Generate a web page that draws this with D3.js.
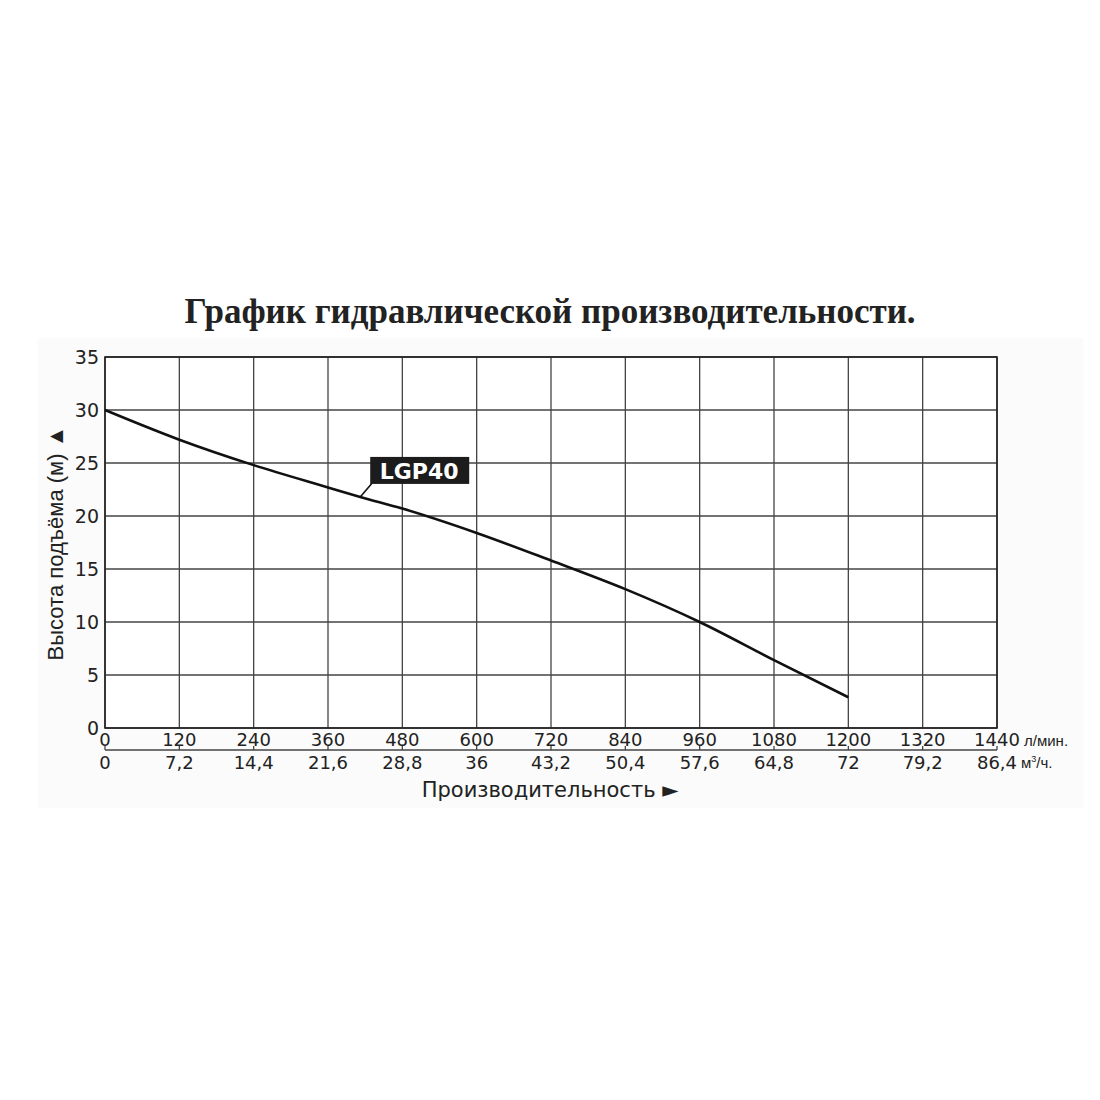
<!DOCTYPE html>
<html>
<head>
<meta charset="utf-8">
<script src="https://cdn.jsdelivr.net/npm/d3@7"></script>
<style>
  body { margin: 0; background: #fff; }
  text { font-family: "DejaVu Sans", "Liberation Sans", Arial, sans-serif; fill: #222; }
</style>
</head>
<body>
<svg id="chart" width="1100" height="1100"></svg>
<script>
// flow in l/min and matching m3/h
const flowTicks = [0, 120, 240, 360, 480, 600, 720, 840, 960, 1080, 1200, 1320, 1440];
const cubicTicks = ["0", "7,2", "14,4", "21,6", "28,8", "36", "43,2", "50,4", "57,6", "64,8", "72", "79,2", "86,4"];
const headTicks = [0, 5, 10, 15, 20, 25, 30, 35];

// LGP40 curve
const flow = [0, 120, 240, 360, 412, 480, 600, 720, 840, 960, 1080, 1200];
const head = [30, 27.2, 24.8, 22.7, 21.8, 20.7, 18.4, 15.8, 13.1, 10.0, 6.4, 2.9];

const svg = d3.select("#chart");
const plotL = 105, plotR = 997, plotT = 357, plotB = 728;

const x = d3.scaleLinear().domain([0, 1440]).range([plotL, plotR]);
const y = d3.scaleLinear().domain([0, 35]).range([plotB, plotT]);

// faint panel behind the chart
svg.append("rect")
    .attr("x", 38).attr("y", 338).attr("width", 1045).attr("height", 470)
    .attr("fill", "#fbfbfb");
svg.append("rect")
    .attr("x", plotL).attr("y", plotT).attr("width", plotR - plotL).attr("height", plotB - plotT)
    .attr("fill", "#fff");

// title
svg.append("text")
    .attr("x", 550).attr("y", 323)
    .attr("text-anchor", "middle")
    .style("font-family", "'Liberation Serif', 'Times New Roman', serif")
    .style("font-weight", "bold")
    .style("font-size", "35px")
    .text("График гидравлической производительности.");

// grid
svg.append("g").selectAll("line")
    .data(headTicks)
    .join("line")
    .attr("x1", plotL).attr("x2", plotR)
    .attr("y1", d => y(d)).attr("y2", d => y(d))
    .attr("stroke", "#444").attr("stroke-width", 1.3);
svg.append("g").selectAll("line")
    .data(flowTicks)
    .join("line")
    .attr("x1", d => x(d)).attr("x2", d => x(d))
    .attr("y1", plotT).attr("y2", plotB)
    .attr("stroke", "#444").attr("stroke-width", 1.3);
svg.append("rect")
    .attr("x", plotL).attr("y", plotT).attr("width", plotR - plotL).attr("height", plotB - plotT)
    .attr("fill", "none").attr("stroke", "#222").attr("stroke-width", 1.6);

// y tick labels
svg.append("g").selectAll("text")
    .data(headTicks)
    .join("text")
    .attr("x", plotL - 6)
    .attr("y", d => y(d) + 7)
    .attr("text-anchor", "end")
    .style("font-size", "19px")
    .text(d => d);

// top row of x labels (l/min)
svg.append("g").selectAll("text")
    .data(flowTicks)
    .join("text")
    .attr("x", d => x(d))
    .attr("y", 746)
    .attr("text-anchor", "middle")
    .style("font-size", "18px")
    .text(d => d);
svg.append("text")
    .attr("x", plotR + 27).attr("y", 746)
    .style("font-family", "'Liberation Sans', Arial, sans-serif")
    .style("font-size", "15px")
    .text("л/мин.");

// second axis (m3/h)
svg.append("line")
    .attr("x1", plotL).attr("x2", plotR)
    .attr("y1", 750).attr("y2", 750)
    .attr("stroke", "#444").attr("stroke-width", 1.3);
svg.append("g").selectAll("line")
    .data(flowTicks)
    .join("line")
    .attr("x1", d => x(d)).attr("x2", d => x(d))
    .attr("y1", 746).attr("y2", 750)
    .attr("stroke", "#444").attr("stroke-width", 1.3);
svg.append("g").selectAll("text")
    .data(flowTicks)
    .join("text")
    .attr("x", d => x(d))
    .attr("y", 769)
    .attr("text-anchor", "middle")
    .style("font-size", "18px")
    .text((d, i) => cubicTicks[i]);
const unit = svg.append("text")
    .attr("x", plotR + 24).attr("y", 768)
    .style("font-family", "'Liberation Sans', Arial, sans-serif")
    .style("font-size", "15px");
unit.append("tspan").text("м");
unit.append("tspan").attr("dy", -6).style("font-size", "9px").text("3");
unit.append("tspan").attr("dy", 6).text("/ч.");

// axis titles
svg.append("text")
    .attr("x", 550).attr("y", 797)
    .attr("text-anchor", "middle")
    .style("font-size", "21px")
    .text("Производительность ►");
svg.append("text")
    .attr("transform", "translate(63,543) rotate(-90)")
    .attr("text-anchor", "middle")
    .style("font-family", "'Liberation Sans', Arial, sans-serif")
    .style("font-size", "22px")
    .text("Высота подъёма (м) ▲");

// curve
svg.append("path")
    .datum(d3.zip(flow, head))
    .attr("d", d3.line().x(d => x(d[0])).y(d => y(d[1])).curve(d3.curveMonotoneX))
    .attr("fill", "none")
    .attr("stroke", "#111")
    .attr("stroke-width", 2.6);

// label with leader
const lx = x(flow[4]), ly = y(head[4]);
svg.append("line")
    .attr("x1", lx).attr("y1", ly)
    .attr("x2", lx + 12).attr("y2", ly - 14)
    .attr("stroke", "#111").attr("stroke-width", 1.6);
svg.append("rect")
    .attr("x", lx + 10).attr("y", ly - 40).attr("width", 99).attr("height", 27)
    .attr("fill", "#1c1c1c");
svg.append("text")
    .attr("x", lx + 59).attr("y", ly - 18)
    .attr("text-anchor", "middle")
    .style("font-size", "22px").style("font-weight", "bold")
    .style("fill", "#fff")
    .text("LGP40");
</script>
</body>
</html>
